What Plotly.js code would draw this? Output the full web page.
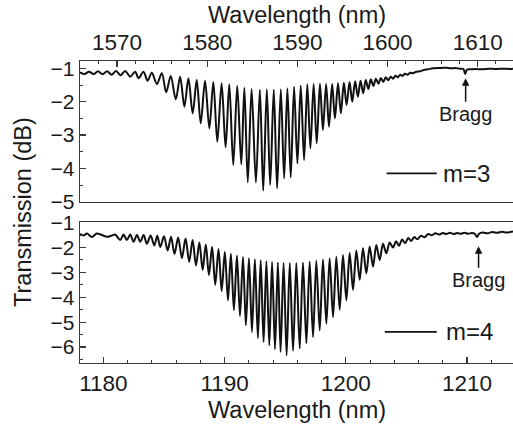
<!DOCTYPE html>
<html>
<head>
<meta charset="utf-8">
<script src="https://cdn.plot.ly/plotly-3.0.1.min.js"></script>
<style>
  html, body { margin: 0; padding: 0; background: #fff; }
  #chart { width: 513px; height: 424px; }
</style>
</head>
<body>
<div id="chart"></div>
<script>
// ---- Data (fringe extrema) ----
const topWavelength = [1565.9,1566.4,1566.9,1567.4,1567.9,1568.4,1568.9,1569.4,1569.9,1570.4,1570.9,1571.47,1572.02,1572.39,1572.94,1573.39,1573.86,1574.42,1574.97,1575.45,1575.96,1576.52,1577.0,1577.47,1577.92,1578.39,1578.84,1579.28,1579.76,1580.24,1580.68,1581.12,1581.6,1582.04,1582.45,1582.89,1583.33,1583.78,1584.12,1584.5,1584.92,1585.4,1585.84,1586.21,1586.61,1586.98,1587.38,1587.75,1588.16,1588.53,1588.89,1589.26,1589.63,1590.0,1590.37,1590.74,1591.1,1591.44,1591.8,1592.14,1592.5,1592.83,1593.18,1593.5,1593.85,1594.16,1594.5,1594.82,1595.15,1595.45,1595.78,1596.08,1596.4,1596.7,1597.0,1597.29,1597.58,1597.86,1598.14,1598.42,1598.7,1598.98,1599.25,1599.52,1599.8,1600.07,1600.33,1600.6,1600.87,1601.13,1601.4,1601.65,1601.9,1602.2,1602.5,1602.8,1603.2,1603.6,1604.0,1604.5,1605.0,1605.5,1606.0,1606.5,1607.0,1607.5,1608.0,1608.4,1608.6,1608.8,1609.2,1609.8,1610.5,1611.2,1612.0,1612.8,1613.5,1613.9];
const topTransmission = [-1.12,-1.17,-1.10,-1.17,-1.09,-1.18,-1.09,-1.19,-1.08,-1.21,-1.08,-1.25,-1.10,-1.30,-1.10,-1.37,-1.13,-1.47,-1.15,-1.72,-1.23,-1.93,-1.25,-2.15,-1.30,-2.35,-1.35,-2.65,-1.37,-2.80,-1.41,-3.20,-1.45,-3.37,-1.48,-3.90,-1.52,-3.88,-1.58,-4.42,-1.62,-4.42,-1.64,-4.67,-1.63,-4.50,-1.64,-4.60,-1.63,-4.30,-1.60,-4.27,-1.55,-3.85,-1.52,-3.75,-1.48,-3.40,-1.47,-3.25,-1.46,-2.85,-1.47,-2.75,-1.47,-2.50,-1.45,-2.35,-1.43,-2.10,-1.41,-2.00,-1.39,-1.85,-1.37,-1.75,-1.35,-1.62,-1.33,-1.53,-1.31,-1.46,-1.29,-1.41,-1.27,-1.36,-1.25,-1.31,-1.22,-1.27,-1.19,-1.23,-1.16,-1.19,-1.13,-1.15,-1.10,-1.09,-1.05,-1.03,-1.00,-0.99,-0.99,-0.98,-1.00,-0.99,-1.01,-1.02,-1.17,-1.04,-1.03,-1.02,-1.03,-1.01,-1.02,-1.01,-1.02,-1.01];

const bottomWavelength = [1178.09,1178.37,1178.64,1179.05,1179.46,1179.88,1180.29,1180.7,1180.98,1181.39,1181.66,1181.94,1182.22,1182.49,1182.77,1183.04,1183.32,1183.59,1183.9,1184.2,1184.45,1184.69,1185.0,1185.3,1185.58,1185.87,1186.17,1186.48,1186.78,1187.08,1187.36,1187.64,1187.92,1188.19,1188.45,1188.71,1188.97,1189.23,1189.5,1189.76,1190.02,1190.28,1190.52,1190.77,1191.02,1191.27,1191.52,1191.76,1192.01,1192.26,1192.5,1192.75,1192.98,1193.22,1193.45,1193.69,1193.92,1194.16,1194.4,1194.62,1194.87,1195.12,1195.38,1195.65,1195.92,1196.2,1196.47,1196.75,1197.02,1197.3,1197.57,1197.85,1198.12,1198.4,1198.67,1198.95,1199.22,1199.5,1199.77,1200.05,1200.32,1200.6,1200.87,1201.15,1201.42,1201.7,1201.97,1202.25,1202.52,1202.8,1203.07,1203.35,1203.62,1203.9,1204.15,1204.4,1204.65,1204.9,1205.15,1205.4,1205.65,1205.9,1206.2,1206.5,1206.8,1207.1,1207.4,1207.7,1208.0,1208.3,1208.6,1208.9,1209.2,1209.5,1209.8,1210.1,1210.4,1210.65,1210.83,1211.0,1211.3,1211.7,1212.1,1212.5,1212.9,1213.3,1213.8];
const bottomTransmission = [-1.45,-1.52,-1.44,-1.58,-1.44,-1.50,-1.57,-1.52,-1.48,-1.70,-1.48,-1.70,-1.48,-1.77,-1.50,-1.77,-1.50,-1.85,-1.52,-1.92,-1.53,-1.98,-1.55,-2.12,-1.57,-2.26,-1.60,-2.42,-1.64,-2.57,-1.70,-2.72,-1.80,-2.90,-1.88,-3.11,-1.97,-3.50,-2.06,-3.75,-2.18,-4.12,-2.25,-4.52,-2.32,-4.75,-2.38,-5.13,-2.43,-5.39,-2.47,-5.64,-2.51,-5.80,-2.55,-5.93,-2.58,-6.09,-2.60,-6.20,-2.62,-6.33,-2.62,-6.15,-2.62,-6.05,-2.60,-5.85,-2.57,-5.60,-2.53,-5.33,-2.48,-5.06,-2.43,-4.80,-2.37,-4.50,-2.30,-4.12,-2.22,-3.70,-2.12,-3.30,-2.03,-3.04,-1.96,-2.77,-1.90,-2.50,-1.85,-2.23,-1.80,-2.00,-1.75,-1.93,-1.68,-1.83,-1.62,-1.74,-1.58,-1.67,-1.53,-1.59,-1.46,-1.51,-1.43,-1.48,-1.42,-1.46,-1.41,-1.46,-1.42,-1.45,-1.41,-1.45,-1.42,-1.45,-1.58,-1.45,-1.40,-1.43,-1.38,-1.41,-1.37,-1.40,-1.36];

const topLabel = 'm=3';
const bottomLabel = 'm=4';
const topBragg = [1608.65, -1.3];
const bottomBragg = [1210.96, -1.95];

// ---- Styling ----
const FONT = 'Liberation Sans, Arial, Helvetica, sans-serif';
const INK = '#1a1a1a';
const AX = '#3a3a3a';

function xAxis(extra) {
  return Object.assign({
    ticks: 'inside', ticklen: 6, tickwidth: 1.2, tickcolor: AX,
    minor: {dtick: 2, ticks: 'inside', ticklen: 3, tickwidth: 1, tickcolor: AX},
    dtick: 10, showline: true, mirror: true, linecolor: AX, linewidth: 1.3,
    showgrid: false, zeroline: false, tickfont: {size: 22.5, color: INK, family: FONT},
    fixedrange: true
  }, extra);
}
function yAxis(extra) {
  return Object.assign({
    ticks: 'inside', ticklen: 6, tickwidth: 1.2, tickcolor: AX,
    minor: {dtick: 0.5, ticks: 'inside', ticklen: 3, tickwidth: 1, tickcolor: AX},
    dtick: 1, showline: true, mirror: false, linecolor: AX, linewidth: 1.3,
    showgrid: false, zeroline: false, tickfont: {size: 21, color: INK, family: FONT},
    fixedrange: true
  }, extra);
}

const lineStyle = {color: '#111', width: 2, shape: 'spline', smoothing: 0.9};

const traces = [
  {x: topWavelength, y: topTransmission, xaxis: 'x', yaxis: 'y', type: 'scatter', mode: 'lines', line: lineStyle, name: topLabel},
  {x: bottomWavelength, y: bottomTransmission, xaxis: 'x2', yaxis: 'y2', type: 'scatter', mode: 'lines', line: lineStyle, name: bottomLabel}
];

const layout = {
  width: 513, height: 424,
  margin: {l: 80, r: 0, t: 61, b: 61.3, pad: 0},
  showlegend: false,
  paper_bgcolor: '#fff', plot_bgcolor: '#fff',
  font: {family: FONT, color: INK, size: 22},
  xaxis: xAxis({domain: [0, 1], anchor: 'y', side: 'top', range: [1565.9, 1613.9], tick0: 1570, ticklabelstandoff: 1}),
  yaxis: yAxis({domain: [0.5336, 1], anchor: 'x', range: [-5.005, -0.78], ticklabelshift: 3.5}),
  xaxis2: xAxis({domain: [0, 1], anchor: 'y2', side: 'bottom', range: [1178.07, 1213.8], tick0: 1180}),
  yaxis2: yAxis({domain: [0, 0.4674], anchor: 'x2', range: [-6.64, -0.97], ticklabelshift: -3.5}),
  shapes: [
    {type: 'line', xref: 'x domain', yref: 'y domain', x0: 0.708, x1: 0.824, y0: 0.202, y1: 0.202, line: {color: '#111', width: 1.8}},
    {type: 'line', xref: 'x2 domain', yref: 'y2 domain', x0: 0.704, x1: 0.824, y0: 0.22, y1: 0.22, line: {color: '#111', width: 1.8}}
  ],
  annotations: [
    {text: 'Wavelength (nm)', xref: 'paper', yref: 'paper', x: 0.5, y: 1.152, showarrow: false, font: {size: 23.5, color: INK}, xanchor: 'center', yanchor: 'middle'},
    {text: 'Wavelength (nm)', xref: 'paper', yref: 'paper', x: 0.5, y: -0.157, showarrow: false, font: {size: 23.5, color: INK}, xanchor: 'center', yanchor: 'middle'},
    {text: 'Transmission (dB)', xref: 'paper', yref: 'paper', x: 0, xshift: -57, y: 0.5, textangle: -90, showarrow: false, font: {size: 23.5, color: INK}, xanchor: 'center', yanchor: 'middle'},
    {text: topLabel, xref: 'x domain', yref: 'y domain', x: 0.833, y: 0.202, showarrow: false, font: {size: 24, color: INK}, xanchor: 'left', yanchor: 'middle'},
    {text: bottomLabel, xref: 'x2 domain', yref: 'y2 domain', x: 0.840, y: 0.22, showarrow: false, font: {size: 24, color: INK}, xanchor: 'left', yanchor: 'middle'},
    {text: 'Bragg', xref: 'x', yref: 'y', x: topBragg[0], y: topBragg[1], ax: 0, ay: 36, showarrow: true, arrowhead: 2, arrowsize: 1, arrowwidth: 1.5, arrowcolor: '#111', standoff: 0, font: {size: 20, color: INK}},
    {text: 'Bragg', xref: 'x2', yref: 'y2', x: bottomBragg[0], y: bottomBragg[1], ax: 0, ay: 34, showarrow: true, arrowhead: 2, arrowsize: 1, arrowwidth: 1.5, arrowcolor: '#111', standoff: 0, font: {size: 20, color: INK}}
  ]
};

Plotly.newPlot('chart', traces, layout, {displayModeBar: false, staticPlot: true});
</script>
</body>
</html>
